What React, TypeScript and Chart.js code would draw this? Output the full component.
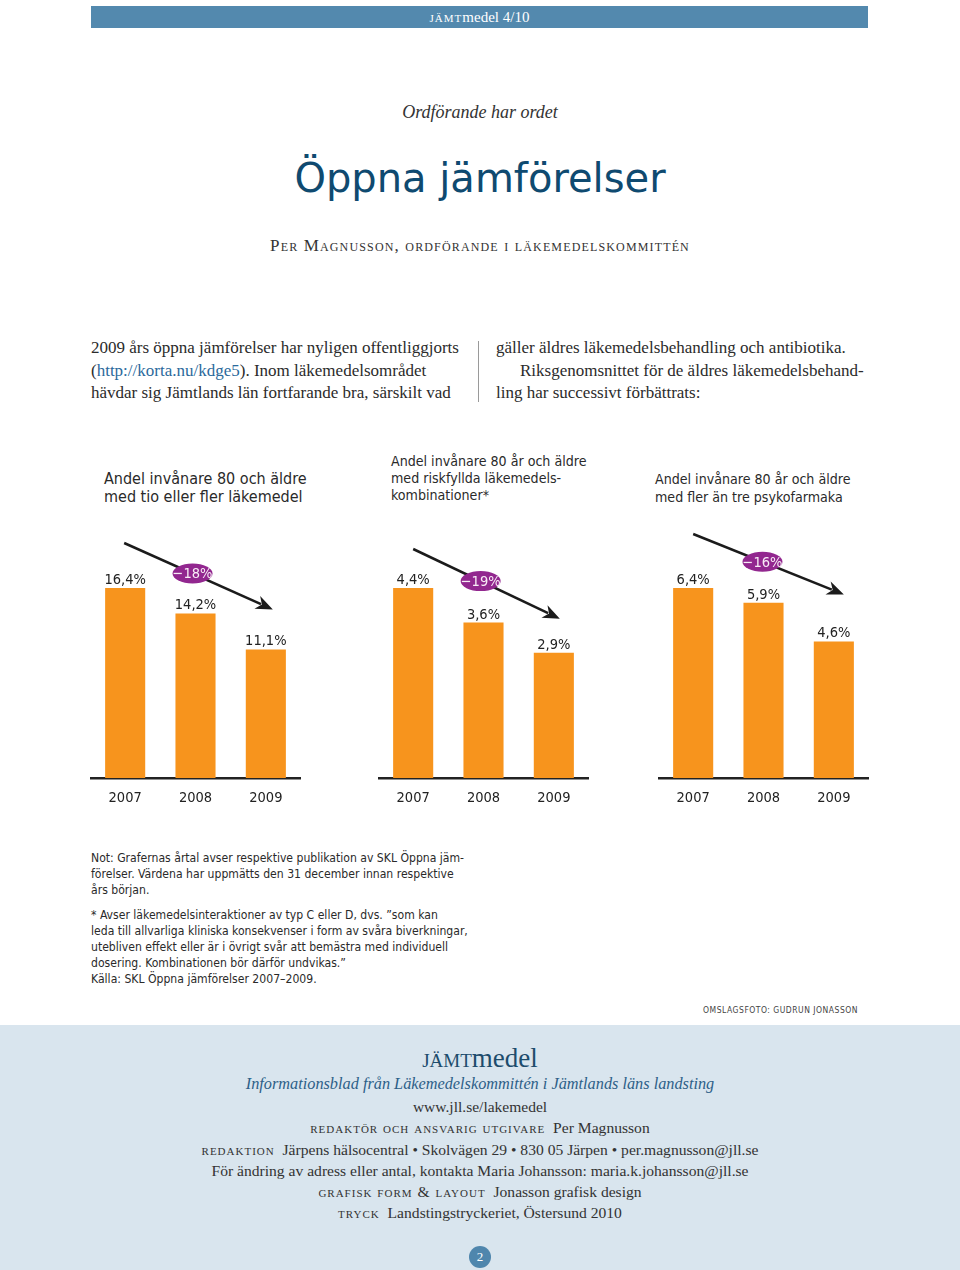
import React, { useEffect, useRef } from "react";
import { Chart, registerables } from "chart.js";

Chart.register(...registerables);

// ---- Data ----
const years = ["2007", "2008", "2009"];
const tioEllerFler = [16.4, 14.2, 11.1];
const riskfyllda = [4.4, 3.6, 2.9];
const psykofarmaka = [6.4, 5.9, 4.6];
const changeLabels = ["−18%", "−19%", "−16%"];
const titleLines1 = ["Andel invånare 80 och äldre", "med tio eller fler läkemedel"];
const titleLines2 = ["Andel invånare 80 år och äldre", "med riskfyllda läkemedels-", "kombinationer*"];
const titleLines3 = ["Andel invånare 80 år och äldre", "med fler än tre psykofarmaka"];

const SANS = '"DejaVu Sans Condensed", "DejaVu Sans", sans-serif';
const SERIF = '"Liberation Serif", "DejaVu Serif", serif';
const BAR_COLOR = "#F7941D";
const PURPLE = "#92278F";
const INK = "#222222";

const fmt = (v: number) => v.toFixed(1).replace(".", ",") + "%";

const overlayPlugin = {
  id: "overlay",
  afterDatasetsDraw(chart: any, _args: any, opts: any) {
    const ctx = chart.ctx as CanvasRenderingContext2D;
    const bars = chart.getDatasetMeta(0).data;
    const vals = chart.data.datasets[0].data as number[];
    ctx.save();
    // value labels
    ctx.font = `14.5px ${SANS}`;
    ctx.fillStyle = INK;
    ctx.textAlign = "center";
    ctx.textBaseline = "alphabetic";
    bars.forEach((b: any, i: number) => ctx.fillText(fmt(vals[i]), b.x, b.y - 4));
    // arrow
    const n = bars.length - 1;
    const x0 = bars[0].x + opts.startDx;
    const y0 = bars[0].y - opts.startGap;
    const x1 = bars[n].x + opts.endDx;
    const y1 = bars[n].y - opts.endGap;
    const ang = Math.atan2(y1 - y0, x1 - x0);
    const headLen = 17;
    const headW = 7;
    const bx = x1 - headLen * Math.cos(ang);
    const by = y1 - headLen * Math.sin(ang);
    ctx.strokeStyle = "#1b1b1b";
    ctx.lineWidth = 2.5;
    ctx.beginPath();
    ctx.moveTo(x0, y0);
    ctx.lineTo(bx + 4 * Math.cos(ang), by + 4 * Math.sin(ang));
    ctx.stroke();
    ctx.fillStyle = "#1b1b1b";
    ctx.beginPath();
    ctx.moveTo(x1, y1);
    ctx.lineTo(bx + headW * Math.sin(ang), by - headW * Math.cos(ang));
    ctx.lineTo(bx + 5 * Math.cos(ang), by + 5 * Math.sin(ang));
    ctx.lineTo(bx - headW * Math.sin(ang), by + headW * Math.cos(ang));
    ctx.closePath();
    ctx.fill();
    // ellipse badge
    const t = 0.46;
    const cx = x0 + (x1 - x0) * t;
    const cy = y0 + (y1 - y0) * t;
    ctx.fillStyle = PURPLE;
    ctx.beginPath();
    ctx.ellipse(cx, cy, 20, 10, 0, 0, Math.PI * 2);
    ctx.fill();
    ctx.fillStyle = "#F8ECF6";
    ctx.font = `14.5px ${SANS}`;
    ctx.textBaseline = "middle";
    ctx.fillText(opts.change, cx, cy + 1);
    ctx.restore();
  },
};

const PLOT_H = 258;
const BAR1_H = 190;

function Panel(props: {
  values: number[];
  change: string;
  left: number;
  startDx: number;
  startGap: number;
  endDx: number;
  endGap: number;
}) {
  const ref = useRef<HTMLCanvasElement>(null);
  useEffect(() => {
    const chart = new Chart(ref.current as HTMLCanvasElement, {
      type: "bar",
      data: {
        labels: years,
        datasets: [
          {
            data: props.values,
            backgroundColor: BAR_COLOR,
            barPercentage: 0.57,
            categoryPercentage: 1,
          },
        ],
      },
      options: {
        animation: false,
        responsive: false,
        maintainAspectRatio: false,
        layout: { padding: 0 },
        plugins: {
          legend: { display: false },
          tooltip: { enabled: false },
          title: { display: false },
          overlay: {
            change: props.change,
            startDx: props.startDx,
            startGap: props.startGap,
            endDx: props.endDx,
            endGap: props.endGap,
          },
        } as any,
        scales: {
          x: {
            grid: { display: false, drawTicks: false },
            border: { display: true, color: INK, width: 2.5 },
            ticks: { color: INK, font: { family: SANS, size: 14.5 }, padding: 12 },
            afterFit: (s: any) => {
              s.height = 37;
            },
          },
          y: {
            display: false,
            min: 0,
            max: (props.values[0] * PLOT_H) / BAR1_H,
          },
        },
      },
      plugins: [overlayPlugin],
    });
    return () => chart.destroy();
  }, []);
  return (
    <canvas
      ref={ref}
      width={211}
      height={295}
      style={{ position: "absolute", left: props.left, top: 520, width: 211, height: 295 }}
    />
  );
}

const abs = (style: React.CSSProperties): React.CSSProperties => ({
  position: "absolute",
  whiteSpace: "nowrap",
  ...style,
});

function CLine(props: { y: number; h: number; style?: React.CSSProperties; children: React.ReactNode }) {
  return (
    <div
      style={abs({
        left: 0,
        width: 960,
        top: props.y - props.h / 2,
        height: props.h,
        lineHeight: props.h + "px",
        textAlign: "center",
        ...props.style,
      })}
    >
      {props.children}
    </div>
  );
}

const sc: React.CSSProperties = { fontVariant: "small-caps", letterSpacing: "1px" };

function TitleBlock(props: { lines: string[]; left: number; top: number; size: number; lh: number }) {
  return (
    <div
      style={abs({
        left: props.left,
        top: props.top,
        fontFamily: SANS,
        fontSize: props.size,
        lineHeight: props.lh + "px",
        color: "#2a2a2a",
      })}
    >
      {props.lines.map((l, i) => (
        <div key={i}>{l}</div>
      ))}
    </div>
  );
}

export default function App() {
  const bodyText: React.CSSProperties = {
    fontFamily: SERIF,
    fontSize: 17,
    lineHeight: "22.5px",
    color: "#2b2b2b",
  };
  const noteLine: React.CSSProperties = { height: 16, lineHeight: "16px" };
  const footLine: React.CSSProperties = { fontSize: 15.6, color: "#333" };
  return (
    <div
      style={{
        position: "relative",
        width: 960,
        height: 1270,
        overflow: "hidden",
        background: "#ffffff",
        fontFamily: SERIF,
      }}
    >
      <style>{`body{margin:0}`}</style>

      {/* header bar */}
      <div
        style={abs({
          left: 91,
          top: 6,
          width: 777,
          height: 22,
          background: "#5389AE",
          color: "#ffffff",
          textAlign: "center",
          lineHeight: "22px",
          fontSize: 15,
          fontFamily: SERIF,
        })}
      >
        <span style={sc}>jämt</span>medel 4/10
      </div>

      <CLine y={112} h={24} style={{ fontStyle: "italic", fontSize: 18, color: "#333" }}>
        Ordförande har ordet
      </CLine>
      <CLine y={178} h={50} style={{ fontFamily: '"DejaVu Sans", sans-serif', fontSize: 40, color: "#0F4A70" }}>
        Öppna jämförelser
      </CLine>
      <CLine y={246} h={22} style={{ fontSize: 17, color: "#333", ...sc, letterSpacing: "1.15px" }}>
        Per Magnusson, ordförande i läkemedelskommittén
      </CLine>

      {/* body text */}
      <div style={abs({ left: 91, top: 337, ...bodyText })}>
        <div>2009 års öppna jämförelser har nyligen offentliggjorts</div>
        <div>
          (<span style={{ color: "#2B6A9C" }}>http://korta.nu/kdge5</span>). Inom läkemedelsområdet
        </div>
        <div>hävdar sig Jämtlands län fortfarande bra, särskilt vad</div>
      </div>
      <div style={abs({ left: 478, top: 341, width: 1, height: 61, background: "#9a9a9a" })} />
      <div style={abs({ left: 496, top: 337, ...bodyText })}>
        <div>gäller äldres läkemedelsbehandling och antibiotika.</div>
        <div style={{ paddingLeft: 24 }}>Riksgenomsnittet för de äldres läkemedelsbehand-</div>
        <div>ling har successivt förbättrats:</div>
      </div>

      {/* chart titles */}
      <TitleBlock lines={titleLines1} left={104} top={470} size={16} lh={18} />
      <TitleBlock lines={titleLines2} left={391} top={453} size={14.1} lh={17} />
      <TitleBlock lines={titleLines3} left={655} top={470} size={14.1} lh={18} />

      {/* charts */}
      <Panel values={tioEllerFler} change={changeLabels[0]} left={90} startDx={-1} startGap={45} endDx={7} endGap={40} />
      <Panel values={riskfyllda} change={changeLabels[1]} left={378} startDx={0} startGap={39} endDx={6} endGap={34} />
      <Panel values={psykofarmaka} change={changeLabels[2]} left={658} startDx={0} startGap={54} endDx={10} endGap={47} />

      {/* notes */}
      <div style={abs({ left: 91, top: 850, fontFamily: SANS, fontSize: 12.1, color: "#2a2a2a" })}>
        <div style={noteLine}>Not: Grafernas årtal avser respektive publikation av SKL Öppna jäm-</div>
        <div style={noteLine}>förelser. Värdena har uppmätts den 31 december innan respektive</div>
        <div style={noteLine}>års början.</div>
        <div style={{ height: 9 }} />
        <div style={noteLine}>* Avser läkemedelsinteraktioner av typ C eller D, dvs. ”som kan</div>
        <div style={noteLine}>leda till allvarliga kliniska konsekvenser i form av svåra biverkningar,</div>
        <div style={noteLine}>utebliven effekt eller är i övrigt svår att bemästra med individuell</div>
        <div style={noteLine}>dosering. Kombinationen bör därför undvikas.”</div>
        <div style={noteLine}>Källa: SKL Öppna jämförelser 2007–2009.</div>
      </div>

      <div
        style={abs({
          right: 102,
          top: 1004,
          fontFamily: SANS,
          fontSize: 8.5,
          letterSpacing: "0.5px",
          color: "#444",
          lineHeight: "12px",
        })}
      >
        OMSLAGSFOTO: GUDRUN JONASSON
      </div>

      {/* footer */}
      <div style={abs({ left: 0, top: 1025, width: 960, height: 245, background: "#D9E5EE" })} />
      <CLine y={1058} h={32} style={{ fontSize: 27, color: "#1D4C6C" }}>
        <span style={{ fontVariant: "small-caps" }}>jämt</span>medel
      </CLine>
      <CLine y={1084} h={22} style={{ fontStyle: "italic", fontSize: 16.3, color: "#2D5F88" }}>
        Informationsblad från Läkemedelskommittén i Jämtlands läns landsting
      </CLine>
      <CLine y={1107} h={20} style={{ fontSize: 15.5, color: "#333" }}>
        www.jll.se/lakemedel
      </CLine>
      <CLine y={1128} h={20} style={footLine}>
        <span style={sc}>redaktör och ansvarig utgivare</span>&nbsp; Per Magnusson
      </CLine>
      <CLine y={1150} h={20} style={footLine}>
        <span style={sc}>redaktion</span>&nbsp; Järpens hälsocentral • Skolvägen 29 • 830 05 Järpen • per.magnusson@jll.se
      </CLine>
      <CLine y={1171} h={20} style={footLine}>
        För ändring av adress eller antal, kontakta Maria Johansson: maria.k.johansson@jll.se
      </CLine>
      <CLine y={1192} h={20} style={footLine}>
        <span style={sc}>grafisk form &amp; layout</span>&nbsp; Jonasson grafisk design
      </CLine>
      <CLine y={1213} h={20} style={footLine}>
        <span style={sc}>tryck</span>&nbsp; Landstingstryckeriet, Östersund 2010
      </CLine>
      <div
        style={abs({
          left: 469,
          top: 1246,
          width: 22,
          height: 22,
          borderRadius: 11,
          background: "#4F86AD",
          color: "#fff",
          fontSize: 13,
          lineHeight: "22px",
          textAlign: "center",
        })}
      >
        2
      </div>
    </div>
  );
}
